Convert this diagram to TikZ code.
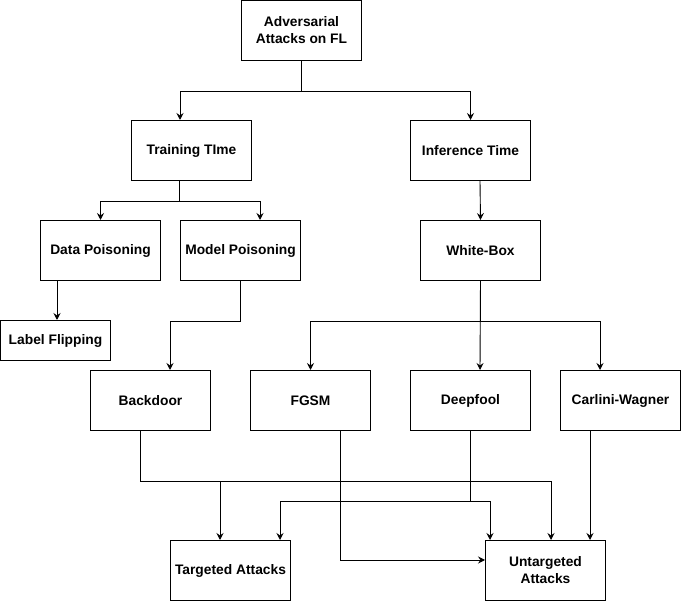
\documentclass[tikz,border=0pt]{standalone}
\usepackage{fontspec}
\setmainfont{Liberation Sans}
\usetikzlibrary{arrows.meta}
\begin{document}
\begin{tikzpicture}[x=1pt,y=-1pt,
  box/.style={draw, line width=1pt, minimum width=120pt, minimum height=60pt,
    inner sep=0pt, align=center, anchor=north west,
    font=\bfseries\fontsize{13.8}{17}\selectfont},
  link/.style={line width=0.9pt, -{Stealth[length=7pt,width=7pt,inset=2.5pt]}}]
\useasboundingbox (0,0) rectangle (681,601);

% boxes
\node[box] (root) at (241,0) {Adversarial\\Attacks on FL};
\node[box] (train) at (131,120) {Training TIme};
\node[box] (infer) at (410,120) {Inference Time};
\node[box] (datap) at (40,220) {Data Poisoning};
\node[box] (modelp) at (180,220) {Model Poisoning};
\node[box] (wbox) at (420,220) {White-Box};
\node[box, minimum width=110pt, minimum height=40pt] (flip) at (0,320) {Label Flipping};
\node[box] (backdoor) at (90,370) {Backdoor};
\node[box] (fgsm) at (250,370) {FGSM};
\node[box] (deepfool) at (410,370) {Deepfool};
\node[box] (cw) at (560,370) {Carlini-Wagner};
\node[box] (targeted) at (170,540) {Targeted Attacks};
\node[box] (untargeted) at (485,540) {Untargeted\\Attacks};

% first level
\draw[link] (root.south) -- ++(0,30) -| ([xshift=49pt]train.north west);
\draw[link] (root.south) -- ++(0,30) -| (infer.north);

% training time branches
\draw[link] ([xshift=48pt]train.south west) -- ++(0,20) -| (datap.north);
\draw[link] ([xshift=48pt]train.south west) -- ++(0,20) -| ([xshift=80pt]modelp.north west);
\draw[link] ([xshift=17pt]datap.south west) -- ([xshift=57pt]flip.north west);
\draw[link] (modelp.south) -- ++(0,40) -| ([xshift=80pt]backdoor.north west);

% inference time branches
\draw[link] ([xshift=70pt]infer.south west) -- (wbox.north);
\draw[link] (wbox.south) -- ([xshift=70pt]deepfool.north west);
\draw[link] (wbox.south) -- ++(0,40) -| (fgsm.north);
\draw[link] (wbox.south) -- ++(0,40) -| ([xshift=40pt]cw.north west);

% attack goals
\draw[link] ([xshift=50pt]backdoor.south west) -- ++(0,50) -| ([xshift=50pt]targeted.north west);
\draw[link] ([xshift=50pt]backdoor.south west) -- ++(0,50) -| ([xshift=66pt]untargeted.north west);
\draw[link] ([xshift=90pt]fgsm.south west) |- ([yshift=-20pt]untargeted.north west);
\draw[link] (deepfool.south) -- ++(0,70) -| ([xshift=110pt]targeted.north west);
\draw[link] (deepfool.south) -- ++(0,70) -| ([xshift=5pt]untargeted.north west);
\draw[link] ([xshift=30pt]cw.south west) -- ([xshift=105pt]untargeted.north west);
\end{tikzpicture}
\end{document}
